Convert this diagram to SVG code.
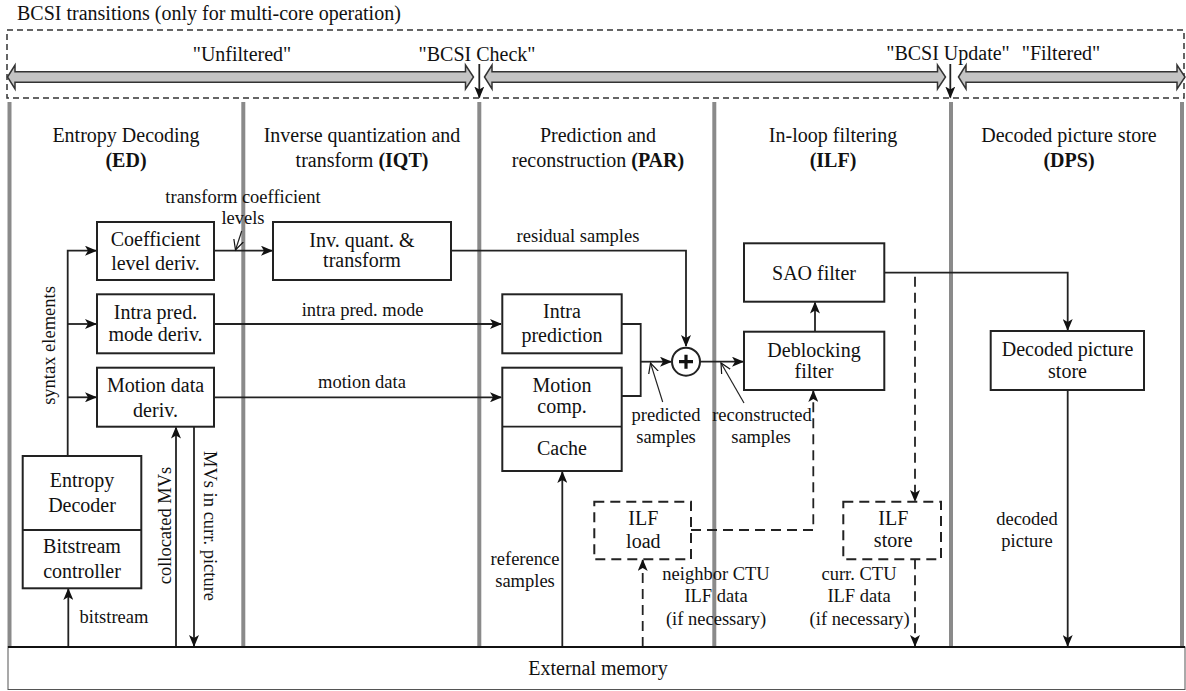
<svg xmlns="http://www.w3.org/2000/svg" width="1186" height="691" viewBox="0 0 1186 691">
<style>
text{font-family:"Liberation Serif","Times New Roman",serif;fill:#111;}
.h{font-size:20px;text-anchor:middle;}
.b{font-size:20px;text-anchor:middle;}
.l{font-size:18.5px;text-anchor:middle;}
.t{font-size:20px;text-anchor:middle;}
.bx{fill:#fff;stroke:#222;stroke-width:2;}
.dbx{fill:#fff;stroke:#222;stroke-width:2;stroke-dasharray:10,6;}
.ln{fill:none;stroke:#222;stroke-width:1.8;}
.dl{fill:none;stroke:#222;stroke-width:1.8;stroke-dasharray:10,6;}
.col{stroke:#8a8a8a;stroke-width:4;}
.band{fill:#c4c4c4;stroke:#333;stroke-width:1.5;}
.co{fill:none;stroke:#222;stroke-width:1.2;}
</style>
<defs>
<marker id="ah" markerWidth="12" markerHeight="10" refX="11" refY="5" orient="auto" markerUnits="userSpaceOnUse">
<path d="M0,0 L12,5 L0,10 L3,5 z" fill="#111"/>
</marker>
<marker id="ov" markerWidth="12" markerHeight="12" refX="10" refY="6" orient="auto" markerUnits="userSpaceOnUse">
<path d="M0,1 L10,6 L0,11" fill="none" stroke="#111" stroke-width="1.2"/>
</marker>
</defs>
<rect width="1186" height="691" fill="#fff"/>

<g id="bcsi">
<text x="17" y="20" style="font-size:20px">BCSI transitions (only for multi-core operation)</text>
<rect x="7" y="30" width="1177" height="68" fill="none" stroke="#333" stroke-width="1.5" stroke-dasharray="6,4"/>
<polygon class="band" points="7.5,77 15,65 15,71.7 465.5,71.7 465.5,65 473.5,77 465.5,89 465.5,82.3 15,82.3 15,89"/>
<polygon class="band" points="484.5,77 492,65 492,71.7 937.5,71.7 937.5,65 945.5,77 937.5,89 937.5,82.3 492,82.3 492,89"/>
<polygon class="band" points="958.5,77 966,65 966,71.7 1177,71.7 1177,65 1185,77 1177,89 1177,82.3 966,82.3 966,89"/>
<text class="t" x="242" y="61">"Unfiltered"</text>
<text class="t" x="477" y="61">"BCSI Check"</text>
<text class="t" x="948" y="60">"BCSI Update"</text>
<text class="t" x="1061" y="60">"Filtered"</text>
<line class="ln" x1="479.3" y1="64" x2="479.3" y2="97.5" marker-end="url(#ah)"/>
<line class="ln" x1="950.3" y1="64" x2="950.3" y2="97.5" marker-end="url(#ah)"/>
</g>

<g id="columns">
<line class="col" x1="9.5" y1="102" x2="9.5" y2="647"/>
<line class="col" x1="243.3" y1="102" x2="243.3" y2="647"/>
<line class="col" x1="479.3" y1="102" x2="479.3" y2="647"/>
<line class="col" x1="714.3" y1="102" x2="714.3" y2="647"/>
<line class="col" x1="951" y1="102" x2="951" y2="647"/>
<line class="col" x1="1182" y1="102" x2="1182" y2="647"/>
</g>

<g id="headers">
<text class="h" x="126" y="142">Entropy Decoding</text>
<text class="h" x="126" y="167" font-weight="bold">(ED)</text>
<text class="h" x="362" y="142">Inverse quantization and</text>
<text class="h" x="362" y="167">transform <tspan font-weight="bold">(IQT)</tspan></text>
<text class="h" x="598" y="142">Prediction and</text>
<text class="h" x="598" y="167">reconstruction <tspan font-weight="bold">(PAR)</tspan></text>
<text class="h" x="833" y="142">In-loop filtering</text>
<text class="h" x="833" y="167" font-weight="bold">(ILF)</text>
<text class="h" x="1069" y="142">Decoded picture store</text>
<text class="h" x="1069" y="167" font-weight="bold">(DPS)</text>
</g>

<g id="connectors">
<path class="ln" d="M67.7,456 V250.7 H96" marker-end="url(#ah)"/>
<path class="ln" d="M67.7,324 H96" marker-end="url(#ah)"/>
<path class="ln" d="M67.7,397.3 H96" marker-end="url(#ah)"/>
<path class="ln" d="M214,250.7 H272" marker-end="url(#ah)"/>
<path class="ln" d="M451,250.7 H686 V346" marker-end="url(#ah)"/>
<path class="ln" d="M214,324 H501" marker-end="url(#ah)"/>
<path class="ln" d="M214,397.3 H501" marker-end="url(#ah)"/>
<path class="ln" d="M622,324 H640.7 V396 H622"/>
<path class="ln" d="M640.7,361.7 H671" marker-end="url(#ah)"/>
<path class="ln" d="M700,361.7 H743" marker-end="url(#ah)"/>
<path class="ln" d="M815,331.7 V302.5" marker-end="url(#ah)"/>
<path class="ln" d="M884,272.7 H1067.7 V330" marker-end="url(#ah)"/>
<path class="ln" d="M1067.7,390 V646" marker-end="url(#ah)"/>
<path class="dl" d="M915,276.7 V501" marker-end="url(#ah)"/>
<path class="dl" d="M915,559.3 V646" marker-end="url(#ah)"/>
<path class="dl" d="M642.7,647 V560" marker-end="url(#ah)"/>
<path class="dl" d="M691,530 H813.3 V391" marker-end="url(#ah)"/>
<path class="ln" d="M562.3,647 V472" marker-end="url(#ah)"/>
<path class="ln" d="M68.3,647 V589" marker-end="url(#ah)"/>
<path class="ln" d="M176,647 V427.5" marker-end="url(#ah)"/>
<path class="ln" d="M194,427 V646" marker-end="url(#ah)"/>
<path class="co" d="M241.7,231 L235.5,250" marker-end="url(#ov)"/>
<path class="co" d="M662.7,402 L650.5,363" marker-end="url(#ov)"/>
<path class="co" d="M744,403 L721,363" marker-end="url(#ov)"/>
</g>

<g id="labels">
<text class="l" x="243" y="202.7">transform coefficient</text>
<text class="l" x="243" y="224">levels</text>
<text class="l" x="578" y="241.7">residual samples</text>
<text class="l" x="362.5" y="316">intra pred. mode</text>
<text class="l" x="362" y="388">motion data</text>
<text class="l" x="114" y="623">bitstream</text>
<text class="l" x="666" y="420.7">predicted</text>
<text class="l" x="666" y="443.3">samples</text>
<text class="l" x="762" y="420.7">reconstructed</text>
<text class="l" x="761" y="443.3">samples</text>
<text class="l" x="525" y="565">reference</text>
<text class="l" x="525" y="586.7">samples</text>
<text class="l" x="716" y="580">neighbor CTU</text>
<text class="l" x="716" y="601.7">ILF data</text>
<text class="l" x="716" y="625">(if necessary)</text>
<text class="l" x="859" y="580">curr. CTU</text>
<text class="l" x="859" y="601.7">ILF data</text>
<text class="l" x="859.7" y="625">(if necessary)</text>
<text class="l" x="1027" y="525">decoded</text>
<text class="l" x="1027" y="546.7">picture</text>
<text class="l" transform="translate(55,345.5) rotate(-90)">syntax elements</text>
<text class="l" transform="translate(171,525.5) rotate(-90)">collocated MVs</text>
<text class="l" transform="translate(203.5,526) rotate(90)">MVs in curr. picture</text>
</g>

<g id="coef-deriv">
<rect class="bx" x="97" y="222" width="117" height="58"/>
<text class="b" x="155.5" y="245.5">Coefficient</text>
<text class="b" x="155.5" y="270">level deriv.</text>
</g>
<g id="intra-deriv">
<rect class="bx" x="97" y="294.3" width="117" height="59"/>
<text class="b" x="155.5" y="319">Intra pred.</text>
<text class="b" x="155.5" y="340.5">mode deriv.</text>
</g>
<g id="motion-deriv">
<rect class="bx" x="97" y="367.7" width="117" height="59"/>
<text class="b" x="155.5" y="391.7">Motion data</text>
<text class="b" x="155.5" y="416.7">deriv.</text>
</g>
<g id="entropy-decoder">
<rect class="bx" x="22.7" y="456" width="118.6" height="132.3"/>
<line class="ln" x1="22.7" y1="530" x2="141.3" y2="530" stroke-width="2"/>
<text class="b" x="82" y="486.7">Entropy</text>
<text class="b" x="82" y="511.7">Decoder</text>
<text class="b" x="82" y="553.3">Bitstream</text>
<text class="b" x="82" y="578.3">controller</text>
</g>
<g id="inv-quant">
<rect class="bx" x="273" y="222" width="178" height="58"/>
<text class="b" x="362" y="246.7">Inv. quant. &amp;</text>
<text class="b" x="362" y="267">transform</text>
</g>
<g id="intra-pred">
<rect class="bx" x="502.3" y="294.3" width="119.4" height="59"/>
<text class="b" x="562" y="318.3">Intra</text>
<text class="b" x="562" y="341.7">prediction</text>
</g>
<g id="motion-comp">
<rect class="bx" x="502.3" y="367.7" width="119.4" height="103.3"/>
<line class="ln" x1="502.3" y1="426.7" x2="621.7" y2="426.7" stroke-width="2"/>
<text class="b" x="562" y="391.7">Motion</text>
<text class="b" x="562" y="413.3">comp.</text>
<text class="b" x="562" y="455">Cache</text>
</g>
<g id="adder">
<circle cx="686" cy="361.7" r="14" fill="#fff" stroke="#222" stroke-width="2"/>
<path d="M679,361.7 H693 M686,354.7 V368.7" stroke="#111" stroke-width="3.2"/>
</g>
<g id="deblocking">
<rect class="bx" x="744" y="331.7" width="140.3" height="58.3"/>
<text class="b" x="814" y="356.7">Deblocking</text>
<text class="b" x="814" y="378.3">filter</text>
</g>
<g id="sao">
<rect class="bx" x="744" y="243.3" width="140.3" height="58.4"/>
<text class="b" x="814" y="280">SAO filter</text>
</g>
<g id="ilf-load">
<rect class="dbx" x="594.3" y="501.7" width="96.7" height="57.6"/>
<text class="b" x="643.3" y="525">ILF</text>
<text class="b" x="643.3" y="548.3">load</text>
</g>
<g id="ilf-store">
<rect class="dbx" x="843.3" y="501.7" width="97.7" height="57.6"/>
<text class="b" x="893.3" y="525">ILF</text>
<text class="b" x="893.3" y="546.7">store</text>
</g>
<g id="dps">
<rect class="bx" x="990.7" y="331" width="153.3" height="59"/>
<text class="b" x="1067.5" y="355.5">Decoded picture</text>
<text class="b" x="1067.5" y="377.5">store</text>
</g>
<g id="external-memory">
<rect x="8" y="647" width="1177" height="42.5" fill="#fff" stroke="#555" stroke-width="1"/>
<line x1="8" y1="647" x2="1185" y2="647" stroke="#111" stroke-width="2.2"/>
<text class="b" x="598" y="675">External memory</text>
</g>
</svg>
